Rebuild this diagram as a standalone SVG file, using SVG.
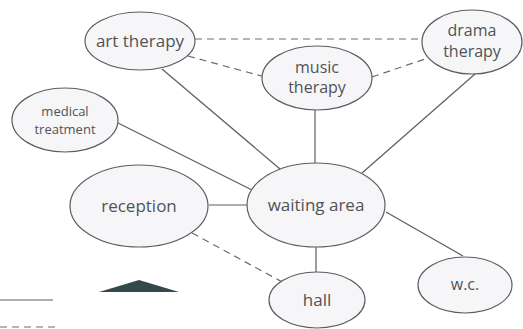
<svg xmlns="http://www.w3.org/2000/svg" width="523" height="329" viewBox="0 0 523 329">
<style>
.n{fill:#f6f6f8;stroke:#5a5e60;stroke-width:1.2}
.t{font-family:"Open Sans","Noto Sans",sans-serif;fill:#505356;text-anchor:middle}
.s{stroke:#5a5e60;stroke-width:1.2;fill:none}
.d{stroke:#6a6d70;stroke-width:1.2;fill:none;stroke-dasharray:7 5}
</style>
<rect width="523" height="329" fill="#ffffff"/>
<g id="connectors">
<line class="d" x1="195" y1="39" x2="424" y2="39"/>
<line class="d" x1="188" y1="56" x2="265" y2="77"/>
<line class="d" x1="372" y1="77" x2="428" y2="58"/>
<line class="s" x1="162" y1="69" x2="280" y2="169"/>
<line class="s" x1="118" y1="123" x2="252" y2="190"/>
<line class="s" x1="315" y1="110" x2="315" y2="163"/>
<line class="s" x1="475" y1="74" x2="362" y2="173"/>
<line class="s" x1="209" y1="205" x2="247" y2="205"/>
<line class="d" x1="192" y1="233" x2="286" y2="284"/>
<line class="s" x1="316" y1="247" x2="316" y2="272"/>
<line class="s" x1="386" y1="212" x2="463" y2="256"/>
<line class="s" x1="0" y1="300" x2="53" y2="300" stroke="#8a8d90"/>
<line class="d" x1="0" y1="327" x2="55" y2="327" stroke-dasharray="6 5"/>
</g>
<g id="art-therapy"><ellipse class="n" cx="140" cy="41" rx="55" ry="29"/><text class="t" x="140" y="47" font-size="17">art therapy</text></g>
<g id="music-therapy"><ellipse class="n" cx="317" cy="78" rx="55" ry="32"/><text class="t" x="317" y="73" font-size="16">music</text><text class="t" x="317" y="93" font-size="16">therapy</text></g>
<g id="drama-therapy"><ellipse class="n" cx="472" cy="42" rx="50" ry="32"/><text class="t" x="472" y="36" font-size="16">drama</text><text class="t" x="472" y="57" font-size="16">therapy</text></g>
<g id="medical-treatment"><ellipse class="n" cx="65" cy="120" rx="53" ry="32"/><text class="t" x="65" y="116" font-size="13">medical</text><text class="t" x="65" y="134" font-size="13">treatment</text></g>
<g id="reception"><ellipse class="n" cx="139" cy="206" rx="69" ry="41"/><text class="t" x="139" y="212" font-size="17">reception</text></g>
<g id="waiting-area"><ellipse class="n" cx="316" cy="205" rx="69" ry="42" fill="#fafafb"/><text class="t" x="316" y="211" font-size="17">waiting area</text></g>
<g id="hall"><ellipse class="n" cx="317" cy="300" rx="48" ry="28"/><text class="t" x="317" y="306" font-size="17">hall</text></g>
<g id="wc"><ellipse class="n" cx="465" cy="285" rx="47" ry="28"/><text class="t" x="465" y="290" font-size="16">w.c.</text></g>
<polygon points="99,292 139,280 179,292" fill="#34494a"/>
</svg>
